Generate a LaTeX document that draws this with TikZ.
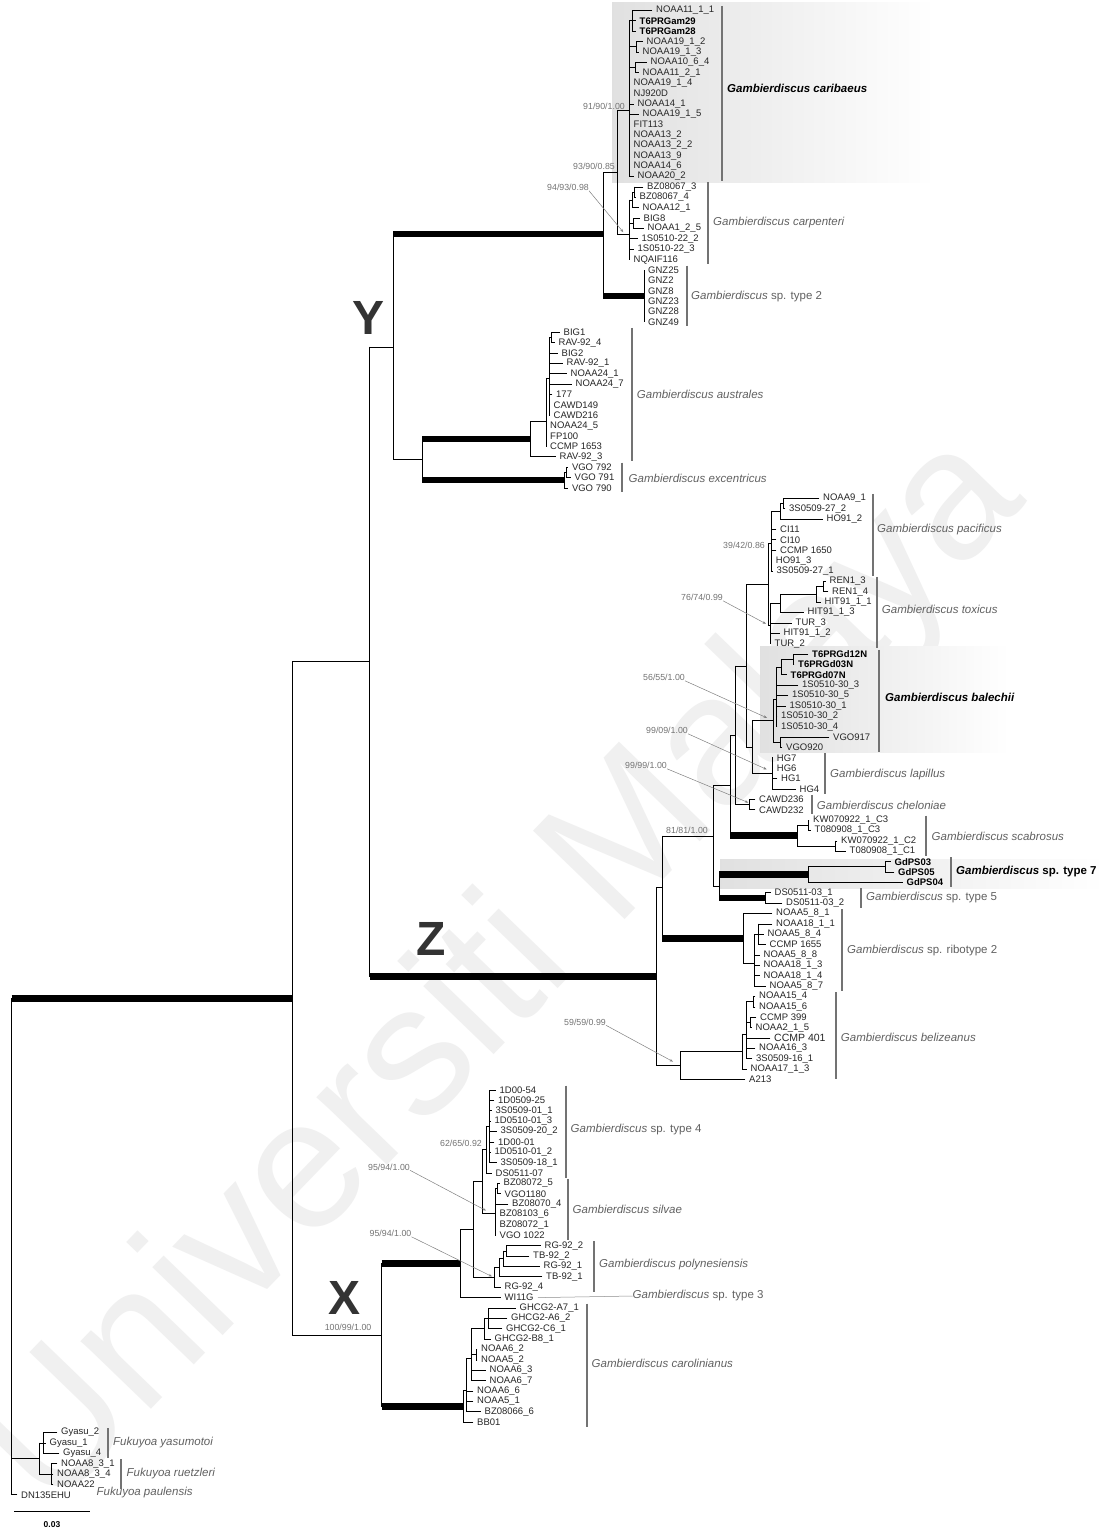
\documentclass[tikz,border=0pt]{standalone}
\usepackage{fontspec}
\setmainfont{Liberation Sans}
\usetikzlibrary{calc,arrows.meta}
\newdimen\ndd
\newcommand\lf[5]{%
  \pgfmathsetmacro\lfy{10.5+(#2-1)*10.38}%
  \coordinate (#1) at (#3,\lfy);%
  \node[leaf,#5] (#1t) at (#1) {#4};%
}
\newcommand\nd[3]{%
  \xdef\ndsum{0}\xdef\ndcnt{0}\xdef\ndmin{10000}\xdef\ndmax{-10000}%
  \foreach \ch in {#3}{%
    \pgfextracty{\ndd}{\pgfpointanchor{\ch}{center}}%
    \pgfmathparse{\ndsum+(\the\ndd)}\xdef\ndsum{\pgfmathresult}%
    \pgfmathparse{\ndcnt+1}\xdef\ndcnt{\pgfmathresult}%
    \pgfmathparse{min(\ndmin,\the\ndd)}\xdef\ndmin{\pgfmathresult}%
    \pgfmathparse{max(\ndmax,\the\ndd)}\xdef\ndmax{\pgfmathresult}%
  }%
  \pgfmathsetmacro\ndm{\ndsum/\ndcnt}%
  \coordinate (#1) at (#2pt,\ndm pt);%
  \draw[br] (#2pt,\ndmin pt) -- (#2pt,\ndmax pt);%
  \foreach \ch in {#3}{\draw[br] (#1 |- \ch) -- (\ch);}%
}
\newcommand\sbar[3]{%
  \pgfmathsetmacro\sba{10.5+(#2-1)*10.38-4.5}%
  \pgfmathsetmacro\sbb{10.5+(#3-1)*10.38+4.5}%
  \draw[sbarst] (#1,\sba) -- (#1,\sbb);%
}
\begin{document}
\begin{tikzpicture}[x=1pt,y=-1pt,
  br/.style={line width=0.8pt,line cap=rect,draw=black},
  thk/.style={line width=6.5pt,line cap=butt,draw=black},
  leaf/.style={anchor=west,inner sep=0pt,inner xsep=4pt,font=\fontsize{9.5}{10}\selectfont,text=black!85},
  leafb/.style={font=\fontsize{9.5}{10}\selectfont\bfseries,text=black},
  sv/.style={anchor=base east,inner sep=0pt,font=\fontsize{8.8}{9}\selectfont,text=black!55},
  sp/.style={anchor=west,inner sep=0pt,font=\fontsize{11.5}{12}\selectfont,text=black!62},
  spb/.style={anchor=west,inner sep=0pt,font=\fontsize{11.5}{12}\selectfont\bfseries,text=black},
  sbarst/.style={line width=2.2pt,draw=black!55},
  sarr/.style={draw=black!50,line width=0.5pt,-{Stealth[length=3.5pt,width=2.6pt]}},
  clade/.style={inner sep=0pt,font=\fontsize{48}{48}\selectfont\bfseries,text=black!80},
]
\useasboundingbox (0,0) rectangle (1111,1530);
\fill[white] (0,0) rectangle (1111,1530);
% watermark
\node[rotate=46,text=black!6,inner sep=0pt,font=\fontsize{185}{185}\selectfont] (wm) at (505,975) {Universiti Malaya};
% highlight boxes
\shade[left color=black!12,right color=white] (612,3) rectangle (935,183);
\shade[left color=black!12,right color=white] (760,646) rectangle (1010,752);
\shade[left color=black!12,right color=white] (720,859) rectangle (1105,888);

% ---------- caribaeus
\lf{l1}{1}{652}{NOAA11\_1\_1}{}
\lf{l2}{2}{635.5}{T6PRGam29}{leafb}
\lf{l3}{3}{635.5}{T6PRGam28}{leafb}
\lf{l4}{4}{642.5}{NOAA19\_1\_2}{}
\lf{l5}{5}{638.5}{NOAA19\_1\_3}{}
\lf{l6}{6}{646.5}{NOAA10\_6\_4}{}
\lf{l7}{7}{638.5}{NOAA11\_2\_1}{}
\lf{l8}{8}{629.5}{NOAA19\_1\_4}{}
\lf{l9}{9}{629.5}{NJ920D}{}
\lf{l10}{10}{633.5}{NOAA14\_1}{}
\lf{l11}{11}{638.5}{NOAA19\_1\_5}{}
\lf{l12}{12}{629.5}{FIT113}{}
\lf{l13}{13}{629.5}{NOAA13\_2}{}
\lf{l14}{14}{629.5}{NOAA13\_2\_2}{}
\lf{l15}{15}{629.5}{NOAA13\_9}{}
\lf{l16}{16}{629.5}{NOAA14\_6}{}
\lf{l17}{17}{633.5}{NOAA20\_2}{}
\nd{c1}{632.5}{l1,l2,l3}
\nd{c3}{636}{l4,l5}
\nd{c4}{635}{l6,l7}
\nd{CAR}{629.5}{c1,c3,c4,l8,l9,l10,l11,l12,l13,l14,l15,l16,l17}
% ---------- carpenteri
\lf{l18}{18}{643}{BZ08067\_3}{}
\lf{l19}{19}{635.5}{BZ08067\_4}{}
\lf{l20}{20}{638.5}{NOAA12\_1}{}
\lf{l21}{21}{639.5}{BIG8}{}
\lf{l22}{22}{643.5}{NOAA1\_2\_5}{}
\lf{l23}{23}{637.5}{1S0510-22\_2}{}
\lf{l24}{24}{633.5}{1S0510-22\_3}{}
\lf{l25}{25}{629.5}{NQAIF116}{}
\nd{b0}{634}{l18,l19}
\nd{b1}{632.5}{b0,l20}
\nd{b2}{633}{l21,l22}
\nd{CARP}{629.3}{b1,b2,l23,l24,l25}
% ---------- sp. type 2
\lf{l26}{26}{644}{GNZ25}{}
\lf{l27}{27}{644}{GNZ2}{}
\lf{l28}{28}{644}{GNZ8}{}
\lf{l29}{29}{644}{GNZ23}{}
\lf{l30}{30}{644}{GNZ28}{}
\lf{l31}{31}{644}{GNZ49}{}
\nd{T2}{644}{l26,l27,l28,l29,l30,l31}
\nd{P}{617.3}{CAR,CARP}
\nd{Q}{603.3}{P,T2}
% ---------- australes
\lf{l32}{32}{559.5}{BIG1}{}
\lf{l33}{33}{554.5}{RAV-92\_4}{}
\lf{l34}{34}{557.5}{BIG2}{}
\lf{l35}{35}{562.5}{RAV-92\_1}{}
\lf{l36}{36}{566.5}{NOAA24\_1}{}
\lf{l37}{37}{571.5}{NOAA24\_7}{}
\lf{l38}{38}{552}{177}{}
\lf{l39}{39}{549.5}{CAWD149}{}
\lf{l40}{40}{549.5}{CAWD216}{}
\lf{l41}{41}{546}{NOAA24\_5}{}
\lf{l42}{42}{546}{FP100}{}
\lf{l43}{43}{546}{CCMP 1653}{}
\lf{l44}{44}{555.5}{RAV-92\_3}{}
\nd{a1}{551.5}{l32,l33}
\nd{AU3}{549}{a1,l34,l35,l36,l37,l38,l39,l40}
\nd{AU2}{546}{AU3,l41,l42,l43}
\nd{AU}{530}{AU2,l44}
% ---------- excentricus
\lf{l45}{45}{567.8}{VGO 792}{}
\lf{l46}{46}{570.5}{VGO 791}{}
\lf{l47}{47}{567.8}{VGO 790}{}
\nd{e1}{566}{l45,l46}
\nd{EX}{564}{e1,l47}
\nd{AE}{422}{AU,EX}
\nd{Y}{393.3}{Q,AE}
% ---------- pacificus
\lf{l48}{48}{819}{NOAA9\_1}{}
\lf{l49}{49}{785}{3S0509-27\_2}{}
\lf{l50}{50}{822.5}{HO91\_2}{}
\lf{l51}{51}{776}{CI11}{}
\lf{l52}{52}{776}{CI10}{}
\lf{l53}{53}{776}{CCMP 1650}{}
\lf{l54}{54}{771.7}{HO91\_3}{}
\lf{l55}{55}{772.5}{3S0509-27\_1}{}
\nd{p1}{783}{l48,l49}
\nd{p2}{780}{p1,l50}
\nd{PAC}{771.7}{p2,l51,l52,l53,l54,l55}
% ---------- toxicus
\lf{l56}{56}{825.5}{REN1\_3}{}
\lf{l57}{57}{828}{REN1\_4}{}
\lf{l58}{58}{820.5}{HIT91\_1\_1}{}
\lf{l59}{59}{803.5}{HIT91\_1\_3}{}
\lf{l60}{60}{791.5}{TUR\_3}{}
\lf{l61}{61}{779.5}{HIT91\_1\_2}{}
\lf{l62}{62}{770.5}{TUR\_2}{}
\nd{r1}{823}{l56,l57}
\nd{r2}{816}{r1,l58}
\nd{r3}{780.7}{r2,l59}
\nd{TOX}{770}{r3,l60,l61,l62}
\nd{PT}{768}{PAC,TOX}
% ---------- balechii
\lf{l63}{63}{808}{T6PRGd12N}{leafb}
\lf{l64}{64}{794}{T6PRGd03N}{leafb}
\lf{l65}{65}{786.5}{T6PRGd07N}{leafb}
\lf{l66}{66}{798}{1S0510-30\_3}{}
\lf{l67}{67}{788}{1S0510-30\_5}{}
\lf{l68}{68}{785.5}{1S0510-30\_1}{}
\lf{l69}{69}{777}{1S0510-30\_2}{}
\lf{l70}{70}{777}{1S0510-30\_4}{}
\lf{l71}{71}{829}{VGO917}{}
\lf{l72}{72}{782}{VGO920}{}
\nd{t1}{793}{l63,l64}
\nd{t2}{781.7}{t1,l65}
\nd{bb1}{776.7}{t2,l66,l67,l68,l69,l70}
\nd{bb3}{780}{l71,l72}
\nd{bb2}{773}{bb1,bb3}
% ---------- lapillus
\lf{l73}{73}{772.7}{HG7}{}
\lf{l74}{74}{772.7}{HG6}{}
\lf{l75}{75}{777}{HG1}{}
\lf{l76}{76}{795.5}{HG4}{}
\nd{LAP}{772.7}{l73,l74,l75,l76}
\nd{BL}{752}{bb2,LAP}
\nd{U1}{746}{PT,BL}
% ---------- cheloniae
\lf{l77}{77}{755}{CAWD236}{}
\lf{l78}{78}{755}{CAWD232}{}
\nd{CH}{749.3}{l77,l78}
\nd{U}{735}{U1,CH}
% ---------- scabrosus
\lf{l79}{79}{809}{KW070922\_1\_C3}{}
\lf{l80}{80}{810.5}{T080908\_1\_C3}{}
\lf{l81}{81}{837}{KW070922\_1\_C2}{}
\lf{l82}{82}{845.5}{T080908\_1\_C1}{}
\nd{s1}{808}{l79,l80}
\nd{s2}{835}{l81,l82}
\nd{SC}{797}{s1,s2}
\nd{Z3}{730}{U,SC}
% ---------- sp. type 7
\lf{l83}{83}{890.5}{GdPS03}{leafb}
\lf{l84}{84}{894}{GdPS05}{leafb}
\lf{l85}{85}{902.5}{GdPS04}{leafb}
\nd{g1}{885}{l83,l84}
\nd{T7}{808}{g1,l85}
% ---------- sp. type 5
\lf{l86}{86}{770.5}{DS0511-03\_1}{}
\lf{l87}{87}{782}{DS0511-03\_2}{}
\nd{T5}{765}{l86,l87}
\nd{Z4}{719.3}{T7,T5}
\nd{Z2}{713}{Z3,Z4}
% ---------- ribotype 2
\lf{l88}{88}{772}{NOAA5\_8\_1}{}
\lf{l89}{89}{772}{NOAA18\_1\_1}{}
\lf{l90}{90}{763.5}{NOAA5\_8\_4}{}
\lf{l91}{91}{765.5}{CCMP 1655}{}
\lf{l92}{92}{759.5}{NOAA5\_8\_8}{}
\lf{l93}{93}{759.5}{NOAA18\_1\_3}{}
\lf{l94}{94}{759.5}{NOAA18\_1\_4}{}
\lf{l95}{95}{765.5}{NOAA5\_8\_7}{}
\nd{RIB3}{758}{l89,l90,l91}
\nd{RIB2}{754.3}{RIB3,l92,l93,l94,l95}
\nd{RIB}{743.5}{l88,RIB2}
\nd{Z1}{662}{Z2,RIB}
% ---------- belizeanus
\lf{l96}{96}{755}{NOAA15\_4}{}
\lf{l97}{97}{755}{NOAA15\_6}{}
\lf{l98}{98}{756}{CCMP 399}{}
\lf{l99}{99}{751.5}{NOAA2\_1\_5}{}
\lf{l100}{100}{770}{CCMP 401}{font=\fontsize{10.5}{11}\selectfont}
\lf{l101}{101}{755}{NOAA16\_3}{}
\lf{l102}{102}{752}{3S0509-16\_1}{}
\lf{l103}{103}{746.5}{NOAA17\_1\_3}{}
\lf{l104}{104}{745}{A213}{}
\nd{bp1}{753.5}{l96,l97}
\nd{bp2}{750}{l98,l99}
\nd{BEL3}{746.7}{bp1,bp2,l100,l101,l102}
\nd{BEL2}{742.7}{BEL3,l103}
\nd{BEL1}{680}{BEL2,l104}
\nd{Z}{656}{Z1,BEL1}
\nd{YZ}{369.5}{Y,Z}
% ---------- sp. type 4
\lf{l105}{105}{495.5}{1D00-54}{}
\lf{l106}{106}{494}{1D0509-25}{}
\lf{l107}{107}{491.5}{3S0509-01\_1}{}
\lf{l108}{108}{490.5}{1D0510-01\_3}{}
\lf{l109}{109}{496.5}{3S0509-20\_2}{}
\lf{l110}{110}{494}{1D00-01}{}
\lf{l111}{111}{490.5}{1D0510-01\_2}{}
\lf{l112}{112}{496.5}{3S0509-18\_1}{}
\lf{l113}{113}{491.5}{DS0511-07}{}
\nd{T4a}{489.5}{l105,l106,l107,l108,l109,l110,l111,l112}
\nd{T4}{486.7}{T4a,l113}
% ---------- silvae
\lf{l114}{114}{499.5}{BZ08072\_5}{}
\lf{l115}{115}{500.5}{VGO1180}{}
\lf{l116}{116}{508}{BZ08070\_4}{}
\lf{l117}{117}{495.5}{BZ08103\_6}{}
\lf{l118}{118}{495.5}{BZ08072\_1}{}
\lf{l119}{119}{495.5}{VGO 1022}{}
\nd{spn}{497}{l114,l115}
\nd{SIL}{495}{spn,l116,l117,l118,l119}
\nd{X3}{482.7}{T4,SIL}
% ---------- polynesiensis
\lf{l120}{120}{540.5}{RG-92\_2}{}
\lf{l121}{121}{529}{TB-92\_2}{}
\lf{l122}{122}{539.5}{RG-92\_1}{}
\lf{l123}{123}{542}{TB-92\_1}{}
\lf{l124}{124}{500.5}{RG-92\_4}{}
\nd{pp}{506.7}{l120,l121}
\nd{POL2}{503.3}{pp,l122}
\nd{POL1}{499.3}{POL2,l123}
\nd{POL}{494}{POL1,l124}
\nd{X2}{473.3}{X3,POL}
\lf{l125}{125}{500.5}{WI11G}{}
\nd{X1}{460.7}{X2,l125}
% ---------- carolinianus
\lf{l126}{126}{515.5}{GHCG2-A7\_1}{}
\lf{l127}{127}{507}{GHCG2-A6\_2}{}
\lf{l128}{128}{502}{GHCG2-C6\_1}{}
\lf{l129}{129}{490.5}{GHCG2-B8\_1}{}
\lf{l130}{130}{477}{NOAA6\_2}{}
\lf{l131}{131}{477}{NOAA5\_2}{}
\lf{l132}{132}{485.5}{NOAA6\_3}{}
\lf{l133}{133}{485.5}{NOAA6\_7}{}
\lf{l134}{134}{473}{NOAA6\_6}{}
\lf{l135}{135}{473}{NOAA5\_1}{}
\lf{l136}{136}{480.5}{BZ08066\_6}{}
\lf{l137}{137}{473}{BB01}{}
\nd{G1}{488.3}{l126,l127,l128}
\nd{G2}{484}{G1,l129}
\nd{N1}{476}{l130,l131}
\nd{G3}{471.7}{G2,N1,l132,l133}
\nd{C1}{466.7}{G3,l134,l135,l136}
\nd{CAR2}{463.3}{C1,l137}
\nd{X}{381.7}{X1,CAR2}
\nd{A}{292.5}{YZ,X}
% ---------- Fukuyoa
\lf{l138}{138}{57}{Gyasu\_2}{}
\lf{l139}{139}{45.5}{Gyasu\_1}{}
\lf{l140}{140}{59}{Gyasu\_4}{}
\lf{l141}{141}{57}{NOAA8\_3\_1}{}
\lf{l142}{142}{53}{NOAA8\_3\_4}{}
\lf{l143}{143}{53}{NOAA22}{}
\lf{l144}{144}{17}{DN135EHU}{}
\nd{FY}{43.3}{l138,l139,l140}
\nd{FR}{51.7}{l141,l142,l143}
\nd{F1}{39.3}{FY,FR}
\nd{ROOT}{11.7}{A,F1,l144}

% ---------- thick branches
\draw[thk] (Y |- Q) -- (Q);
\draw[thk] (Q |- T2) -- (T2);
\draw[thk] (AE |- AU) -- (AU);
\draw[thk] (AE |- EX) -- (EX);
\draw[thk] (Z3 |- SC) -- (SC);
\draw[thk] (Z4 |- T7) -- (T7);
\draw[thk] (Z4 |- T5) -- (T5);
\draw[thk] (Z1 |- RIB) -- (RIB);
\draw[thk] (YZ |- Z) -- (Z);
\draw[thk] (ROOT |- A) -- (A);
\draw[thk] (X |- X1) -- (X1);
\draw[thk] (X |- CAR2) -- (CAR2);

% ---------- clade letters
\node[clade] (cY) at (369,318) {Y};
\node[clade] (cZ) at (431.5,939) {Z};
\node[clade] (cX) at (344.5,1298) {X};

% ---------- support values
\node[sv] (sv1) at (625,109.5) {91/90/1.00};
\node[sv] (sv2) at (615,169.5) {93/90/0.85};
\node[sv] (sv3) at (589,190.5) {94/93/0.98};
\node[sv] (sv4) at (765,548.5) {39/42/0.86};
\node[sv] (sv5) at (723,600.5) {76/74/0.99};
\node[sv] (sv6) at (685,680.5) {56/55/1.00};
\node[sv] (sv7) at (688,733.5) {99/09/1.00};
\node[sv] (sv8) at (667,768.5) {99/99/1.00};
\node[sv] (sv9) at (708,833) {81/81/1.00};
\node[sv] (sv10) at (606,1025) {59/59/0.99};
\node[sv] (sv11) at (482,1146.5) {62/65/0.92};
\node[sv] (sv12) at (410,1170) {95/94/1.00};
\node[sv] (sv13) at (411.5,1236.5) {95/94/1.00};
\node[sv] (sv14) at (371.5,1330.5) {100/99/1.00};
\coordinate (a3) at ($(CARP)+(-6,-2)$);
\coordinate (a5) at ($(TOX)+(-4,-2)$);
\coordinate (a6) at ($(bb2)+(-6,-3)$);
\coordinate (a7) at ($(LAP)+(-6,-4)$);
\coordinate (a8) at ($(CH)+(-1,-2)$);
\coordinate (a10) at ($(BEL1)+(-7,-4)$);
\coordinate (a12) at ($(SIL)+(-9,-3)$);
\coordinate (a13) at ($(POL)+(-2,-1)$);
\draw[sarr] (sv3.south east) -- (a3);
\draw[sarr] (sv5.south east) -- (a5);
\draw[sarr] (sv6.south east) -- (a6);
\draw[sarr] (sv7.south east) -- (a7);
\draw[sarr] (sv8.south east) -- (a8);
\draw[sarr] (sv10.south east) -- (a10);
\draw[sarr] (sv12.south east) -- (a12);
\draw[sarr] (sv13.south east) -- (a13);

% ---------- species bars and names
\sbar{721.7}{1}{17}
\node[spb] (sp1) at (727,88) {\itshape Gambierdiscus caribaeus};
\sbar{708.3}{18}{25}
\node[sp] (sp2) at (713,223) {\itshape Gambierdiscus carpenteri};
\sbar{686.7}{26}{31}
\node[sp] (sp3) at (691,297) {\textit{Gambierdiscus} sp. type 2};
\sbar{631.7}{32}{44}
\node[sp] (sp4) at (636.7,394) {\itshape Gambierdiscus australes};
\sbar{622.3}{45}{47}
\node[sp] (sp5) at (628.5,478.5) {\itshape Gambierdiscus excentricus};
\sbar{872.7}{48}{55}
\node[sp] (sp6) at (877,530) {\itshape Gambierdiscus pacificus};
\sbar{876.7}{56}{62}
\node[sp] (sp7) at (881.7,609) {\itshape Gambierdiscus toxicus};
\sbar{879.3}{63}{72}
\node[spb] (sp8) at (885,697) {\itshape Gambierdiscus balechii};
\sbar{825}{73}{76}
\node[sp] (sp9) at (830,775) {\itshape Gambierdiscus lapillus};
\sbar{811.7}{77}{78}
\node[sp] (sp10) at (816.7,805) {\itshape Gambierdiscus cheloniae};
\sbar{926}{79}{82}
\node[sp] (sp11) at (931.5,836) {\itshape Gambierdiscus scabrosus};
\sbar{950.7}{83}{85}
\node[spb] (sp12) at (956,872) {\textit{Gambierdiscus} sp. type 7};
\sbar{860.7}{86}{87}
\node[sp] (sp13) at (866,898) {\textit{Gambierdiscus} sp. type 5};
\sbar{841.7}{88}{95}
\node[sp] (sp14) at (847,951) {\textit{Gambierdiscus} sp. ribotype 2};
\sbar{836}{96}{103.5}
\node[sp] (sp15) at (840.7,1037) {\itshape Gambierdiscus belizeanus};
\sbar{566}{105}{113}
\node[sp] (sp16) at (570.5,1130) {\textit{Gambierdiscus} sp. type 4};
\sbar{568.3}{114}{119}
\node[sp] (sp17) at (572.5,1209.5) {\itshape Gambierdiscus silvae};
\sbar{594}{120}{124}
\node[sp] (sp18) at (599,1265) {\itshape Gambierdiscus polynesiensis};
\node[sp] (sp19) at (632.5,1296) {\textit{Gambierdiscus} sp. type 3};
\draw[black!45,line width=0.5pt] (l125t.east) -- (sp19.west);
\sbar{586.7}{126}{137}
\node[sp] (sp20) at (591.5,1363) {\itshape Gambierdiscus carolinianus};
\sbar{108.3}{138}{140}
\node[sp] (sp21) at (113,1442.5) {\itshape Fukuyoa yasumotoi};
\sbar{120.7}{141}{143}
\node[sp] (sp22) at (126.5,1473.5) {\itshape Fukuyoa ruetzleri};
\node[sp] (sp23) at (96.5,1493) {\itshape Fukuyoa paulensis};

% ---------- scale bar
\coordinate (sb1) at (14,1511.7);
\coordinate (sb2) at (90,1511.7);
\draw[line width=0.9pt] (sb1) -- (sb2);
\node[inner sep=0pt,font=\fontsize{8.5}{9}\selectfont\bfseries] (sbl) at (52,1525) {0.03};
\end{tikzpicture}
\end{document}
